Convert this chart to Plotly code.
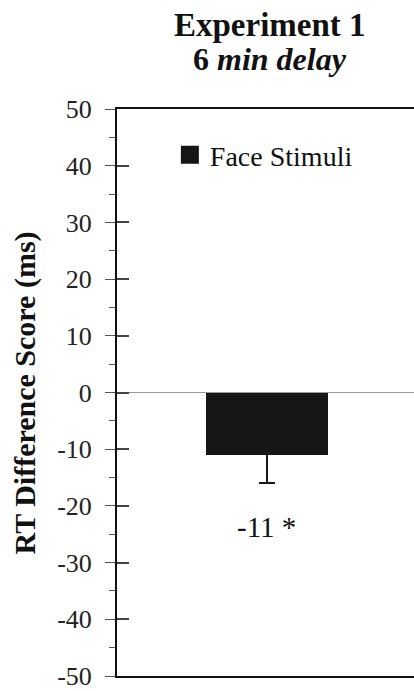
import plotly.graph_objects as go

# Data
conditions = ["Face Stimuli"]
rt_diff = [-11]          # mean RT difference score (ms)
rt_err = [5]             # standard error (ms)
significance = ["*"]

y_ticks = [50, 40, 30, 20, 10, 0, -10, -20, -30, -40, -50]

FONT = "Liberation Serif"
BAR_COLOR = "#161616"
TICK_COLOR = "#555555"

fig = go.Figure()

# Symmetric error bar; the upper half sits inside the dark bar
fig.add_trace(go.Bar(
    x=[0],
    y=rt_diff,
    width=0.41,
    marker=dict(color=BAR_COLOR, line=dict(width=0)),
    error_y=dict(type="data", array=rt_err, color=BAR_COLOR, thickness=1.6, width=8),
    showlegend=False,
    name=conditions[0],
))

# Legend key (larger square than the default bar swatch); sits on the
# overlay axis so that axis is drawn too
fig.add_trace(go.Scatter(
    x=[None], y=[None], mode="markers", name=conditions[0], yaxis="y2",
    marker=dict(symbol="square", size=16, color=BAR_COLOR,
                line=dict(color=BAR_COLOR, width=2)),
    showlegend=True,
))

# Value label under the error bar
fig.add_annotation(
    x=0, y=rt_diff[0] - rt_err[0], xref="x", yref="y",
    text=f"{rt_diff[0]} {significance[0]}", showarrow=False,
    yanchor="top", yshift=-26,
    font=dict(family=FONT, size=29, color="#111111"),
)

# Two-line heading
fig.add_annotation(
    x=0.515, y=1.148, xref="paper", yref="paper", text="<b>Experiment 1</b>",
    showarrow=False, xanchor="center", yanchor="middle",
    font=dict(family=FONT, size=33, color="#111111"),
)
fig.add_annotation(
    x=0.515, y=1.089, xref="paper", yref="paper", text="<b>6 <i>min delay</i></b>",
    showarrow=False, xanchor="center", yanchor="middle",
    font=dict(family=FONT, size=32, color="#111111"),
)

# Y-axis title
fig.add_annotation(
    x=-0.31, y=0.5, xref="paper", yref="paper", text="<b>RT Difference Score (ms)</b>",
    textangle=-90, showarrow=False, xanchor="center", yanchor="middle",
    font=dict(family=FONT, size=30, color="#111111"),
)

fig.update_layout(
    width=414, height=691,
    margin=dict(l=117, r=0, t=109, b=15),
    paper_bgcolor="white", plot_bgcolor="white",
    font=dict(family=FONT, color="#111111"),
    bargap=0,
    legend=dict(
        x=0.178, y=0.963, xanchor="left", yanchor="top",
        bgcolor="rgba(0,0,0,0)", borderwidth=0,
        font=dict(family=FONT, size=28, color="#111111"),
    ),
    xaxis=dict(
        range=[-0.505, 0.495], showticklabels=False, ticks="",
        showgrid=False, zeroline=False,
        showline=True, linecolor="#111111", linewidth=2, mirror=True,
    ),
    yaxis=dict(
        range=[-50, 50], tickvals=y_ticks, ticktext=[str(v) for v in y_ticks],
        ticks="outside", ticklen=10, tickwidth=1.2, tickcolor=TICK_COLOR,
        tickfont=dict(family=FONT, size=26, color="#222222"),
        ticklabelstandoff=8, ticklabeloverflow="allow",
        minor=dict(dtick=5, ticks="outside", ticklen=6, tickwidth=1.2, tickcolor=TICK_COLOR),
        showgrid=False,
        zeroline=True, zerolinecolor="#9a9a9a", zerolinewidth=1,
        showline=True, linecolor="#111111", linewidth=2,
    ),
    # inner halves of the major tick marks
    yaxis2=dict(
        overlaying="y", side="left", range=[-50, 50], tickvals=y_ticks[1:-1],
        ticks="inside", ticklen=12, tickwidth=1.5, tickcolor="#444444",
        showticklabels=False, showgrid=False, zeroline=False, showline=False,
    ),
)

fig.write_html("out.html")
